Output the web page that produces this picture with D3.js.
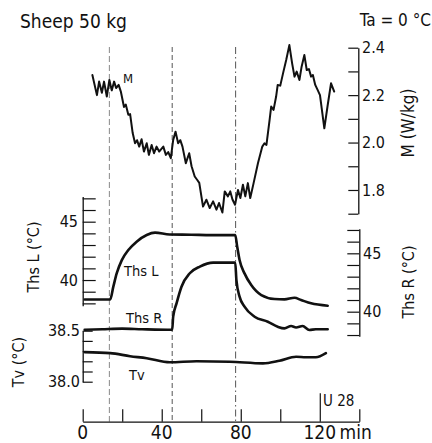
<!DOCTYPE html>
<html><head><meta charset="utf-8">
<script src="https://cdn.jsdelivr.net/npm/d3@7"></script>
<style>
html,body{margin:0;padding:0;background:#fff;}
svg{display:block;font-family:"DejaVu Sans Condensed","DejaVu Sans",sans-serif;}
</style></head>
<body><svg id="c" width="432" height="443"></svg>
<script>
// ---- data ----
const eventTimes = [13.5, 45.3, 77.4];
const xTicks = [0, 20, 40, 60, 80, 100, 120, 140];
const xTickLabels = [0, 40, 80, 120];
const mTicks = [1.7, 1.8, 1.9, 2.0, 2.1, 2.2, 2.3, 2.4];
const mTickLabels = [1.8, 2.0, 2.2, 2.4];
const thsTicks = [38, 39, 40, 41, 42, 43, 44, 45, 46, 47];
const thsTickLabels = [40, 45];
const tvTicks = [38.0, 38.1, 38.2, 38.3, 38.4, 38.5];
const tvTickLabels = [38.0, 38.5];

const mSeries = [[4.9,2.285],[7.2,2.20],[8.3,2.257],[9.7,2.21],[10.8,2.257],[12.2,2.194],[13.5,2.264],[14.7,2.22],[15.9,2.257],[16.9,2.23],[18.2,2.243],[19.3,2.215],[20.9,2.15],[21.8,2.16],[23.1,2.117],[24,2.12],[25.3,2.04],[26.5,1.997],[27.5,2.01],[28.6,1.983],[29.8,2.014],[31,1.962],[32.4,1.997],[33.5,1.948],[34.9,1.99],[36.1,1.955],[37.4,1.983],[38.7,1.962],[40.8,1.983],[42.1,1.948],[43.3,1.96],[44.6,1.934],[45.8,2.011],[47,2.046],[48.3,1.997],[49.4,2.01],[50.5,1.983],[52.2,1.913],[53.9,1.955],[55.1,1.90],[56.7,1.857],[57.9,1.843],[59,1.83],[60.9,1.73],[62.6,1.759],[64.3,1.724],[66,1.752],[67.7,1.717],[69,1.745],[70.7,1.705],[71.9,1.794],[73.5,1.773],[74.7,1.794],[75.8,1.76],[77.1,1.738],[78.6,1.80],[79.8,1.766],[81.1,1.822],[82.3,1.773],[83.6,1.829],[84.8,1.766],[86.5,1.829],[88.7,1.913],[90.9,1.983],[92,1.997],[93,1.99],[94.6,2.096],[95.4,2.152],[96.6,2.138],[97.9,2.194],[98.7,2.243],[100,2.24],[101.6,2.299],[103,2.348],[104.6,2.411],[106,2.334],[107.2,2.278],[108.3,2.299],[109.7,2.264],[110.8,2.32],[112.2,2.369],[113.4,2.306],[114.5,2.31],[115.6,2.278],[116.5,2.285],[117.7,2.243],[118.9,2.222],[120.1,2.20],[122.3,2.06],[123.9,2.152],[125.7,2.25],[127.3,2.215]];

const thsLSeries = [[1,38.33],[13.9,38.33],[15.5,39.43],[17.2,40.57],[19.8,41.71],[23.1,42.57],[27.3,43.29],[32.4,43.86],[36.6,44.06],[44,43.9],[55,43.88],[65,43.85],[77.2,43.86],[78.2,42.86],[79.4,41.71],[81.9,40.57],[85.3,39.57],[90.4,38.71],[97.1,38.37],[102.1,38.34],[107.2,38.48],[110.5,38.29],[115.6,38.0],[124,37.8]];

const thsRSeries = [[1,38.45],[10,38.5],[20,38.55],[30,38.5],[45.3,38.45],[45.8,39.57],[47.5,40.71],[50,42.14],[54.2,43.29],[59.3,43.86],[66,44.2],[77.2,44.2],[77.8,42.71],[79.4,41.29],[81.9,40.43],[87,39.57],[93.7,39.14],[98.7,38.71],[102.1,38.57],[105.5,38.77],[108,38.65],[111.3,38.77],[114.7,38.43],[118,38.5],[124,38.49]];

const tvSeries = [[1,38.29],[13.9,38.28],[24,38.25],[32.4,38.23],[44.1,38.19],[57.6,38.2],[74.4,38.196],[91.2,38.18],[99.6,38.206],[108,38.245],[113,38.24],[118,38.24],[123.1,38.28]];

// ---- scales ----
const svg = d3.select("#c");
svg.append("rect").attr("width",432).attr("height",443).attr("fill","#fff");
const x = d3.scaleLinear().domain([0,140]).range([82.7,359.3]);
const yM = d3.scaleLinear().domain([1.7,2.4]).range([213.7,47.7]);
const yL = d3.scaleLinear().domain([37.8,47.15]).range([305.7,196.6]);
const yR = d3.scaleLinear().domain([37.9,47.1]).range([336.2,228.8]);
const yTv = d3.scaleLinear().domain([38.0,38.5]).range([381.7,330.7]);

const ink = "#111";
const axisBase = 421.7;

// event lines
const dashes = ["6,3","5,3","7,3,1.5,3"];
const dashColors = ["#888","#555","#555"];
eventTimes.forEach((t,i)=>{
  svg.append("line").attr("x1",x(t)).attr("x2",x(t)).attr("y1",47).attr("y2",axisBase)
    .attr("stroke",dashColors[i]).attr("stroke-width",1).attr("stroke-dasharray",dashes[i]);
});

function styleAxis(g, labelSize){
  g.select(".domain").attr("stroke",ink).attr("stroke-width",1.3);
  g.selectAll(".tick line").attr("stroke",ink).attr("stroke-width",1.2);
  g.selectAll("text").attr("fill",ink).attr("font-size",labelSize);
}

// bottom axis (ticks upward)
const gx = svg.append("g").attr("transform",`translate(0,${axisBase})`)
  .call(d3.axisTop(x).tickValues(xTicks).tickSize(12.5).tickSizeOuter(0).tickFormat(""));
styleAxis(gx, 19);
gx.selectAll(".tick line").filter(d=>d===120).attr("y2",-28.5);
svg.selectAll(".xl").data(xTickLabels).enter().append("text")
  .attr("x",d=>x(d)).attr("y",439).attr("text-anchor","middle")
  .attr("font-size",19).attr("fill",ink).text(d=>d);
svg.append("text").attr("x",339.5).attr("y",439).attr("font-size",19).attr("fill",ink).text("min");
svg.append("text").attr("x",323).attr("y",405.5).attr("font-size",15).attr("fill",ink).text("U 28");

// M axis (right)
const gM = svg.append("g").attr("transform","translate(358.3,0)")
  .call(d3.axisLeft(yM).tickValues(mTicks).tickSize(10).tickSizeOuter(0).tickFormat(""));
styleAxis(gM, 16);
svg.selectAll(".ml").data(mTickLabels).enter().append("text")
  .attr("x",362).attr("y",d=>yM(d)).attr("dy","0.36em")
  .attr("font-size",16).attr("fill",ink).text(d=>d.toFixed(1));
svg.append("text").attr("transform","translate(414,123) rotate(-90)")
  .attr("text-anchor","middle").attr("font-size",17).attr("fill",ink).text("M  (W/kg)");

// Ths L axis (left)
const gL = svg.append("g").attr("transform","translate(82.7,0)")
  .call(d3.axisRight(yL).tickValues(thsTicks).tickSize(13).tickSizeOuter(0).tickFormat(""));
styleAxis(gL, 16);
svg.selectAll(".ll").data(thsTickLabels).enter().append("text")
  .attr("x",78).attr("y",d=>yL(d)).attr("dy","0.36em").attr("text-anchor","end")
  .attr("font-size",16).attr("fill",ink).text(d=>d);
svg.append("text").attr("transform","translate(39,257) rotate(-90)")
  .attr("text-anchor","middle").attr("font-size",16).attr("fill",ink).text("Ths L (°C)");

// Ths R axis (right)
const gR = svg.append("g").attr("transform","translate(359.3,0)")
  .call(d3.axisLeft(yR).tickValues(thsTicks).tickSize(12).tickSizeOuter(0).tickFormat(""));
styleAxis(gR, 16);
svg.selectAll(".rl").data(thsTickLabels).enter().append("text")
  .attr("x",363).attr("y",d=>yR(d)).attr("dy","0.36em")
  .attr("font-size",16).attr("fill",ink).text(d=>d);
svg.append("text").attr("transform","translate(414,282) rotate(-90)")
  .attr("text-anchor","middle").attr("font-size",16).attr("fill",ink).text("Ths R (°C)");

// Tv axis (left)
const gT = svg.append("g").attr("transform","translate(82.7,0)")
  .call(d3.axisRight(yTv).tickValues(tvTicks).tickSize(10).tickSizeOuter(0).tickFormat(""));
styleAxis(gT, 16);
svg.selectAll(".tl").data(tvTickLabels).enter().append("text")
  .attr("x",80).attr("y",d=>yTv(d)).attr("dy","0.36em").attr("text-anchor","end")
  .attr("font-size",16).attr("fill",ink).text(d=>d.toFixed(1));
svg.append("text").attr("transform","translate(24,362) rotate(-90)")
  .attr("text-anchor","middle").attr("font-size",16).attr("fill",ink).text("Tv  (°C)");

// series
function draw(series, ys, curve, w){
  svg.append("path").datum(series)
    .attr("d", d3.line().x(d=>x(d[0])).y(d=>ys(d[1])).curve(curve))
    .attr("fill","none").attr("stroke",ink).attr("stroke-width",w)
    .attr("stroke-linejoin","round").attr("stroke-linecap","round");
}
draw(mSeries, yM, d3.curveLinear, 2);
draw(thsLSeries, yL, d3.curveMonotoneX, 2.6);
draw(thsRSeries, yR, d3.curveMonotoneX, 2.6);
draw(tvSeries, yTv, d3.curveMonotoneX, 2.6);

// curve labels
const lab = (t,xx,yy,s)=>svg.append("text").attr("x",xx).attr("y",yy).attr("font-size",s).attr("fill",ink).text(t);
lab("M",123,83,13);
lab("Ths L",124,276,14.5);
lab("Ths R",126,323,14.5);
lab("Tv",129,380,14.5);

// titles
svg.append("text").attr("x",20).attr("y",28).attr("font-size",19).attr("fill",ink).text("Sheep  50 kg");
svg.append("text").attr("x",431).attr("y",26).attr("text-anchor","end").attr("font-size",17).attr("fill",ink).text("Ta = 0 °C");
</script></body></html>
